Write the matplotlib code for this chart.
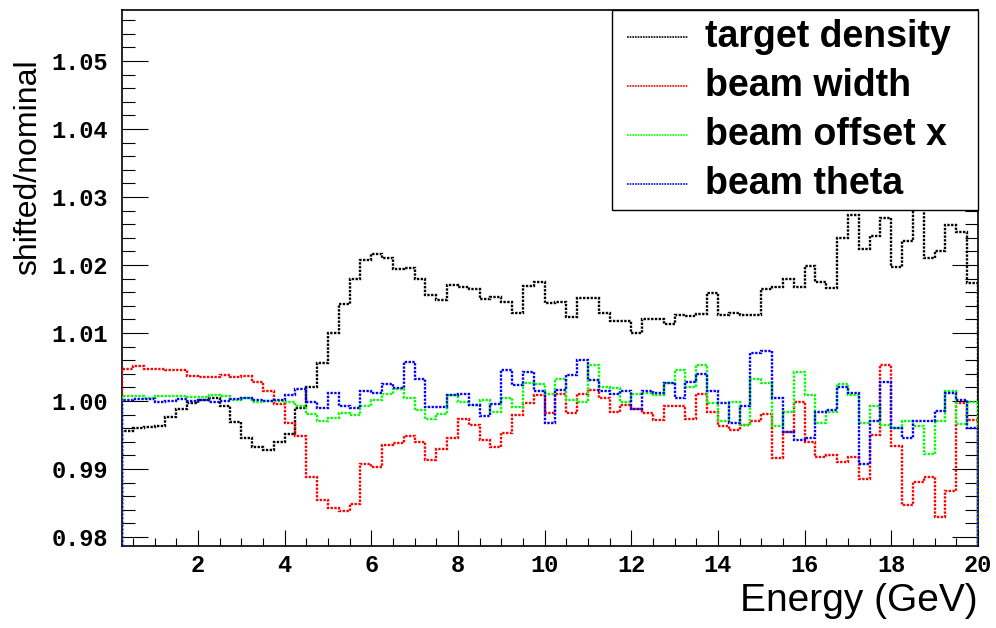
import numpy as np
import matplotlib
matplotlib.use("Agg")
import matplotlib.pyplot as plt
from matplotlib.ticker import MultipleLocator, FormatStrFormatter
from matplotlib.patches import Rectangle
from matplotlib.lines import Line2D

# energy binning: 79 bins of 0.25 GeV from 0.25 to 20 GeV
e_lo, e_hi, bin_w = 0.25, 20.0, 0.25
edges = np.linspace(e_lo, e_hi, 80)

target_density = [
    0.9956, 0.9961, 0.9962, 0.9963, 0.9976, 0.9988, 0.9997, 1.0001, 1.0004, 0.9992,
    0.9969, 0.9945, 0.9932, 0.9928, 0.9940, 0.9952, 0.9989, 1.0021, 1.0056, 1.0100,
    1.0143, 1.0180, 1.0207, 1.0216, 1.0211, 1.0194, 1.0195, 1.0180, 1.0156, 1.0148,
    1.0171, 1.0167, 1.0164, 1.0150, 1.0153, 1.0146, 1.0130, 1.0169, 1.0175, 1.0144,
    1.0146, 1.0124, 1.0151, 1.0152, 1.0130, 1.0118, 1.0117, 1.0100, 1.0120, 1.0120,
    1.0113, 1.0126, 1.0125, 1.0128, 1.0159, 1.0126, 1.0129, 1.0126, 1.0127, 1.0164,
    1.0167, 1.0180, 1.0167, 1.0199, 1.0175, 1.0166, 1.0240, 1.0274, 1.0223, 1.0243,
    1.0269, 1.0197, 1.0236, 1.0310, 1.0210, 1.0221, 1.0259, 1.0249, 1.0173,
]
beam_width = [
    1.0047, 1.0052, 1.0047, 1.0047, 1.0046, 1.0045, 1.0037, 1.0036, 1.0036, 1.0038,
    1.0035, 1.0037, 1.0028, 1.0014, 0.9996, 0.9967, 0.9949, 0.9888, 0.9854, 0.9842,
    0.9839, 0.9849, 0.9907, 0.9903, 0.9935, 0.9938, 0.9949, 0.9939, 0.9914, 0.9929,
    0.9945, 0.9973, 0.9965, 0.9943, 0.9933, 0.9953, 0.9979, 0.9997, 1.0009, 0.9983,
    1.0010, 0.9982, 1.0010, 1.0016, 1.0004, 0.9984, 0.9994, 0.9988, 0.9983, 0.9972,
    0.9993, 0.9993, 0.9973, 1.0010, 0.9984, 0.9963, 0.9958, 0.9965, 0.9970, 0.9981,
    0.9916, 0.9955, 0.9998, 0.9940, 0.9917, 0.9921, 0.9911, 0.9918, 0.9885, 0.9950,
    1.0053, 0.9934, 0.9847, 0.9881, 0.9888, 0.9829, 0.9867, 0.9997, 0.9972,
]
beam_offset_x = [
    1.0007, 1.0007, 1.0005, 1.0008, 1.0008, 1.0008, 1.0006, 1.0006, 1.0009, 1.0008,
    1.0002, 1.0004, 0.9999, 1.0000, 1.0000, 0.9999, 0.9992, 0.9981, 0.9970, 0.9975,
    0.9982, 0.9979, 0.9992, 1.0002, 1.0010, 1.0017, 1.0004, 0.9987, 0.9973, 0.9981,
    1.0009, 0.9998, 0.9994, 1.0001, 0.9984, 1.0004, 0.9991, 1.0026, 1.0025, 1.0011,
    1.0033, 1.0002, 0.9998, 1.0053, 1.0021, 1.0019, 0.9998, 1.0010, 1.0012, 1.0009,
    1.0026, 1.0046, 1.0020, 1.0053, 0.9997, 0.9970, 0.9998, 0.9965, 1.0033, 1.0026,
    0.9963, 0.9984, 1.0043, 1.0009, 0.9968, 0.9984, 1.0025, 1.0009, 0.9967, 0.9993,
    0.9965, 0.9960, 0.9971, 0.9963, 0.9922, 0.9970, 1.0014, 0.9966, 0.9998,
]
beam_theta = [
    1.0001, 1.0003, 1.0003, 0.9998, 1.0000, 1.0003, 1.0000, 1.0001, 0.9999, 1.0000,
    1.0003, 1.0004, 1.0001, 1.0000, 1.0002, 1.0009, 1.0017, 0.9999, 0.9989, 1.0012,
    0.9993, 0.9989, 1.0015, 1.0012, 1.0025, 1.0019, 1.0057, 1.0032, 0.9991, 0.9991,
    1.0009, 1.0011, 0.9994, 0.9978, 0.9996, 1.0046, 1.0024, 1.0043, 1.0015, 0.9968,
    1.0016, 1.0038, 1.0060, 1.0031, 1.0015, 1.0011, 1.0014, 0.9988, 1.0015, 1.0012,
    1.0026, 1.0005, 1.0028, 1.0040, 1.0014, 0.9997, 0.9968, 0.9992, 1.0071, 1.0074,
    1.0004, 0.9955, 0.9942, 0.9945, 0.9984, 0.9987, 1.0021, 1.0012, 0.9908, 0.9970,
    1.0028, 0.9960, 0.9945, 0.9971, 0.9970, 0.9986, 1.0012, 1.0002, 0.9960,
]

labels = ["target density", "beam width", "beam offset x", "beam theta"]
colors = ["black", "#ff0000", "#00ff00", "#0000ff"]
series = [target_density, beam_width, beam_offset_x, beam_theta]

W, H = 996, 628
fig = plt.figure(figsize=(W / 100, H / 100), dpi=100)
ax = fig.add_axes([122 / W, 1 - 546 / H, 856 / W, 536 / H])

dotted = (0, (1, 0.6))
for vals, col in zip(series, colors):
    ax.stairs(vals, edges, baseline=0.95, fill=False, color=col,
              linewidth=1.7, linestyle=dotted, zorder=3)

ax.set_xlim(e_lo, e_hi)
ax.set_ylim(0.97868, 1.0575)

tick_font = dict(family="Liberation Mono", weight="bold", size=17)
ax.xaxis.set_major_locator(MultipleLocator(2))
ax.xaxis.set_minor_locator(MultipleLocator(0.5))
ax.yaxis.set_major_locator(MultipleLocator(0.01))
ax.yaxis.set_minor_locator(MultipleLocator(0.002))
ax.yaxis.set_major_formatter(FormatStrFormatter("%.2f"))
ax.tick_params(axis="both", which="both", direction="in", width=0.8,
               top=False, right=True, labelright=False)
ax.tick_params(axis="y", which="major", length=19, pad=10)
ax.tick_params(axis="y", which="minor", length=9.5)
ax.tick_params(axis="x", which="major", length=11.5, pad=6)
ax.tick_params(axis="x", which="minor", length=5.8)
for lab in ax.get_xticklabels() + ax.get_yticklabels():
    lab.set_fontfamily(tick_font["family"])
    lab.set_fontweight(tick_font["weight"])
    lab.set_fontsize(tick_font["size"])
for sp in ax.spines.values():
    sp.set_linewidth(1.2)

fig.text(978 / W, 1 - 601 / H, "Energy (GeV)", ha="right", va="center",
         family="Liberation Sans", fontsize=28)
fig.text(28 / W, 1 - 167 / H, "shifted/nominal", ha="center", va="center",
         rotation=90, family="Liberation Sans", fontsize=23)

# legend box in the upper right corner
x0 = (612 - 122) / 856
y0 = (546 - 210) / 536
ax.add_patch(Rectangle((x0, y0), 1 - x0, 1 - y0, transform=ax.transAxes,
                       facecolor="white", edgecolor="black", linewidth=1.0,
                       zorder=10, clip_on=False))
row_y = [37, 86, 135, 184]
for lab, col, ry in zip(labels, colors, row_y):
    yy = (546 - ry) / 536
    ax.add_line(Line2D([(627 - 122) / 856, (688 - 122) / 856], [yy, yy],
                       transform=ax.transAxes, color=col, linewidth=1.2,
                       linestyle=dotted, zorder=11, clip_on=False))
    ax.text((705 - 122) / 856, yy, lab, transform=ax.transAxes, ha="left",
            va="center", family="Liberation Sans", weight="bold",
            fontsize=27, zorder=12)

fig.savefig("out.png", dpi=100)
